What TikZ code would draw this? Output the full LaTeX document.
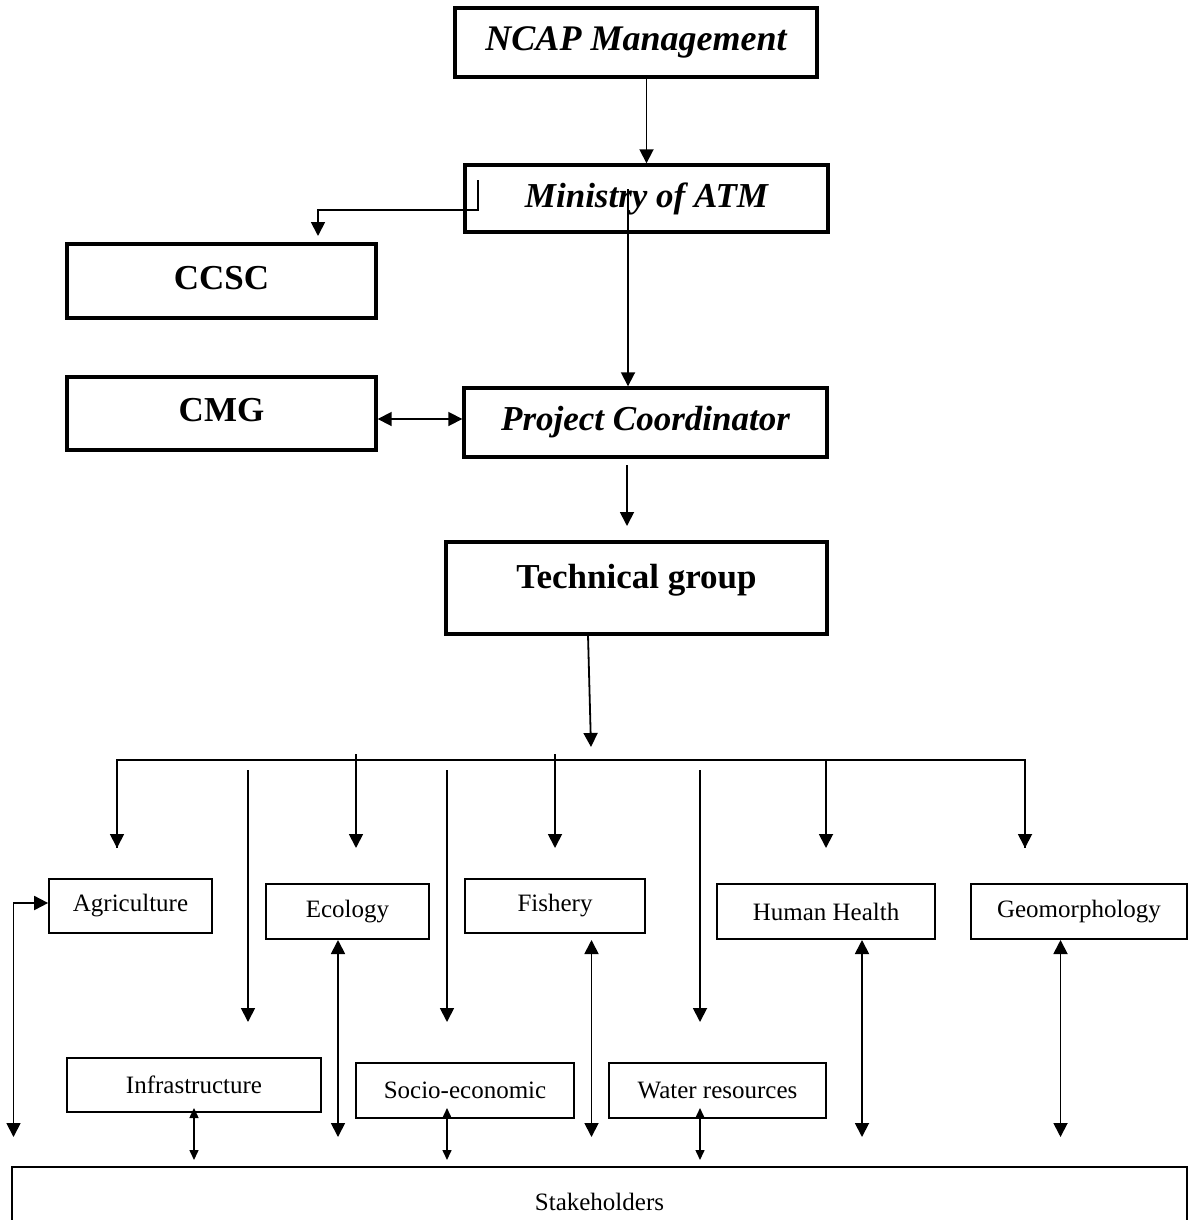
\documentclass[tikz,border=0pt]{standalone}
\usepackage{fontspec}
\setmainfont{Liberation Serif}
\usetikzlibrary{arrows.meta}
\begin{document}
\begin{tikzpicture}[x=1pt,y=-1pt,
  bigbox/.style={draw, line width=3.4pt, inner sep=0pt, font=\fontsize{35}{42}\selectfont\bfseries},
  bibox/.style={draw, line width=3.4pt, inner sep=0pt, font=\fontsize{35}{42}\selectfont\bfseries\itshape},
  smallbox/.style={draw, line width=1.7pt, inner sep=0pt, font=\fontsize{25}{30}\selectfont},
  arr/.style={line width=1.8pt, -{Triangle[length=14pt,width=14pt]}},
  darr/.style={line width=1.8pt, {Triangle[length=14pt,width=14pt]}-{Triangle[length=14pt,width=14pt]}},
  sdarr/.style={line width=1.5pt, {Triangle[length=10pt,width=9pt]}-{Triangle[length=10pt,width=9pt]}},
  plain/.style={line width=1.8pt}
]
\useasboundingbox (0,0) rectangle (1193,1220);

% top boxes
\node[bibox, font=\fontsize{36}{43}\selectfont\bfseries\itshape, minimum width=362pt, minimum height=69pt] (ncap) at (636,42.5) {NCAP Management\hspace{15pt}};
\node[bibox, minimum width=363pt, minimum height=67pt] (min) at (646.5,198.5) {Ministry of ATM};
\node[bigbox, minimum width=309pt, minimum height=74pt, text depth=7pt] (ccsc) at (221.5,281) {CCSC};
\node[bigbox, minimum width=309pt, minimum height=73pt, text depth=7pt] (cmg) at (221.5,413.5) {CMG};
\node[bibox, minimum width=363pt, minimum height=69pt] (pc) at (645.5,422.5) {Project Coordinator\hspace{33pt}};
\node[bigbox, minimum width=381pt, minimum height=92pt, text height=20pt, text depth=20pt] (tg) at (636.5,588) {Technical group};

% sector boxes
\node[smallbox, minimum width=163pt, minimum height=54pt] (agri) at (130.5,906) {Agriculture};
\node[smallbox, minimum width=163pt, minimum height=55pt] (eco) at (347.5,911.5) {Ecology};
\node[smallbox, minimum width=180pt, minimum height=54pt] (fish) at (555,906) {Fishery};
\node[smallbox, minimum width=218pt, minimum height=55pt] (hh) at (826,911.5) {Human Health\hspace{20pt}};
\node[smallbox, minimum width=216pt, minimum height=55pt] (geo) at (1079,911.5) {Geomorphology\hspace{18pt}};
\node[smallbox, minimum width=254pt, minimum height=54pt] (infra) at (194,1085) {Infrastructure};
\node[smallbox, minimum width=218pt, minimum height=55pt] (socio) at (465,1090.5) {Socio-economic\hspace{16pt}};
\node[smallbox, minimum width=217pt, minimum height=55pt] (water) at (717.5,1090.5) {Water resources\hspace{16pt}};
\node[smallbox, minimum width=1175pt, minimum height=69pt] (stake) at (599.5,1201.5) {Stakeholders};

% free ends
\coordinate (m1) at (628,189);
\coordinate (e1) at (478,180);
\coordinate (e2) at (478,210);
\coordinate (e3) at (318,236);
\coordinate (p1) at (627,465);
\coordinate (p2) at (627,526);
\coordinate (t1) at (588,635);
\coordinate (t2) at (591,747);
\coordinate (b1) at (117,760);
\coordinate (b2) at (1025,760);
\coordinate (a1) at (117,848);
\coordinate (a2) at (356,848);
\coordinate (a3) at (555,848);
\coordinate (a4) at (826,848);
\coordinate (a5) at (1025,848);
\coordinate (s2) at (356,754);
\coordinate (s3) at (555,754);
\coordinate (s4) at (826,759);
\coordinate (u1) at (248,770);
\coordinate (u1e) at (248,1022);
\coordinate (u2) at (447,770);
\coordinate (u2e) at (447,1022);
\coordinate (u3) at (700,770);
\coordinate (u3e) at (700,1022);
\coordinate (ag) at (13.5,1137);
\coordinate (d1) at (338,940);
\coordinate (d1e) at (338,1137);
\coordinate (d2) at (591.5,940);
\coordinate (d2e) at (591.5,1137);
\coordinate (d3) at (862,940);
\coordinate (d3e) at (862,1137);
\coordinate (d4) at (1060.5,940);
\coordinate (d4e) at (1060.5,1137);
\coordinate (k1) at (194,1108);
\coordinate (k1e) at (194,1160);
\coordinate (k2) at (447,1108);
\coordinate (k2e) at (447,1160);
\coordinate (k3) at (700,1108);
\coordinate (k3e) at (700,1160);

% connectors
\draw[arr] (ncap.south -| min.north) -- (min.north);
\draw[arr] (e1) -- (e2) -| (e3);
\draw[arr] (m1) -- (pc.north -| m1);
\draw[darr] ([yshift=-5.5pt]cmg.east) -- ([yshift=-5.5pt]cmg.east -| pc.west);
\draw[arr] (p1) -- (p2);
\draw[arr] (t1) -- (t2);

\draw[plain] (a1) -- (b1) -- (b2) -- (a5);
\draw[arr] (b1) -- (a1);
\draw[arr] (b2) -- (a5);
\draw[arr] (s2) -- (a2);
\draw[arr] (s3) -- (a3);
\draw[arr] (s4) -- (a4);

\draw[arr] (u1) -- (u1e);
\draw[arr] (u2) -- (u2e);
\draw[arr] (u3) -- (u3e);

\draw[darr] ([yshift=3pt]agri.west) -| (ag);
\draw[darr] (d1) -- (d1e);
\draw[darr] (d2) -- (d2e);
\draw[darr] (d3) -- (d3e);
\draw[darr] (d4) -- (d4e);

\draw[sdarr] (k1) -- (k1e);
\draw[sdarr] (k2) -- (k2e);
\draw[sdarr] (k3) -- (k3e);
\end{tikzpicture}
\end{document}
